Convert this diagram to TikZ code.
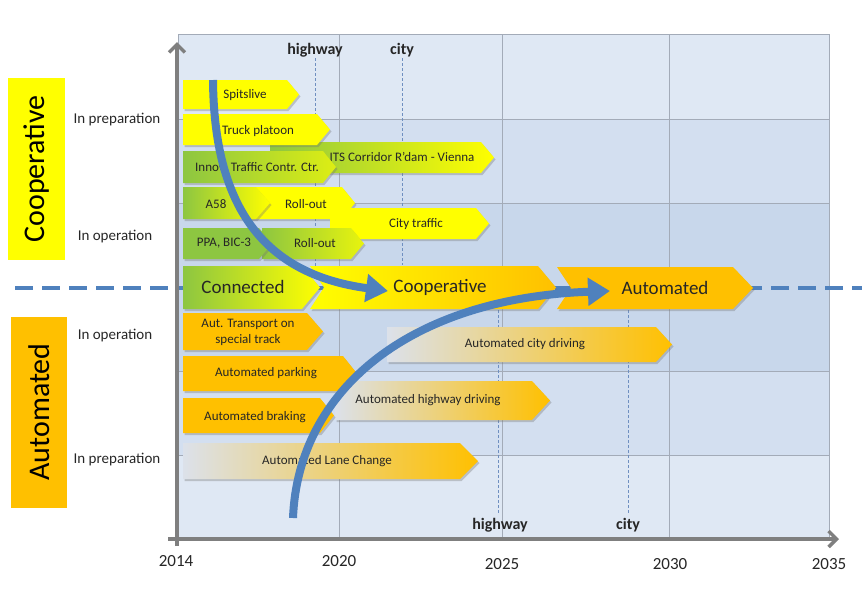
\documentclass[tikz,border=0pt]{standalone}
\usepackage{fontspec}
\setmainfont{Carlito}
\usetikzlibrary{arrows.meta,shadows}
\definecolor{cyel}{HTML}{FFFF00}
\definecolor{corg}{HTML}{FFC000}
\definecolor{cgrn}{HTML}{8DC641}
\definecolor{cpale}{HTML}{DCE1EA}
\definecolor{cblue}{HTML}{4F81BD}
\definecolor{caxis}{HTML}{7F7F7F}
\definecolor{bgA}{HTML}{DFE8F4}
\definecolor{bgB}{HTML}{D3DFF0}
\definecolor{bgC}{HTML}{C8D7EB}
\definecolor{cgrid}{HTML}{A3ABB8}
\definecolor{ctext}{HTML}{262626}
\definecolor{croad}{HTML}{6F8FC0}
\newcommand\arrbox[7]{%
  \path[boxshadow,#1] (#2,#3) -- ({#4-#6},#3) -- (#4,{(#3+#5)/2}) -- ({#4-#6},#5) -- (#2,#5) -- ({#2+#7},{(#3+#5)/2}) -- cycle;}
\tikzset{
  boxshadow/.style={drop shadow={shadow xshift=1.5pt,shadow yshift=-2pt,opacity=.35,fill=black!55}},
  yel/.style={fill=cyel},
  org/.style={fill=corg},
  grn/.style={fill=cgrn},
  pale2o/.style={left color=cpale, middle color=corg, right color=corg},
  boxtext/.style={font=\fontsize{13}{16}\selectfont, text=ctext, align=center, inner sep=0pt},
  bigtext/.style={font=\fontsize{19}{22}\selectfont, text=ctext, inner sep=0pt},
  rowlab/.style={font=\fontsize{15}{18}\selectfont, text=ctext, inner sep=0pt},
  yearlab/.style={font=\fontsize{17}{20}\selectfont, text=ctext, inner sep=0pt},
  roadlab/.style={font=\bfseries\fontsize{16}{19}\selectfont, text=ctext, inner sep=0pt},
  sidelab/.style={font=\fontsize{30}{36}\selectfont, text=black, rotate=90, inner sep=0pt},
  roadline/.style={draw=croad, line width=0.8pt, dash pattern=on 3pt off 2pt},
  gridline/.style={draw=cgrid, line width=0.8pt},
  flow/.style={draw=cblue, line width=8pt, -{Triangle[length=22pt,width=27pt]}},
  axisline/.style={draw=caxis, line width=3.5pt, -{Straight Barb[length=8pt,width=16pt]}}
}
\begin{document}
\begin{tikzpicture}[x=1pt,y=-1pt]
\useasboundingbox (0,0) rectangle (865,614);
% panel rows
\fill[bgA] (178,34) rectangle (829,119);
\fill[bgB] (178,119) rectangle (829,203);
\fill[bgC] (178,203) rectangle (829,288);
\fill[bgC] (178,288) rectangle (829,371);
\fill[bgB] (178,371) rectangle (829,455);
\fill[bgA] (178,455) rectangle (829,539);
% grid
\foreach \yy in {119,203,371,455} \draw[gridline] (178,\yy) -- (829,\yy);
\foreach \xx in {339,502,669} \draw[gridline] (\xx,34) -- (\xx,539);
\draw[gridline] (178,34) rectangle (829,539);
% road milestone lines
\draw[roadline] (315,58) -- (315,270);
\draw[roadline] (402,58) -- (402,265);
\draw[roadline] (498,300) -- (498,514);
\draw[roadline] (628,300) -- (628,513);
\node[roadlab] (hwtop) at (315,50) {highway};
\node[roadlab] (citytop) at (402,50) {city};
\node[roadlab] (hwbot) at (500,525) {highway};
\node[roadlab] (citybot) at (628,525) {city};
% divider
\coordinate (divL) at (15,288);
\coordinate (divR) at (862,288);
\draw[cblue, line width=3.5pt, dash pattern=on 18pt off 9pt] (divL) -- (divR);
% side labels
\fill[cyel] (8,78) rectangle (65,260);
\node[sidelab] (coopside) at (37,169) {Cooperative};
\fill[corg] (11,317) rectangle (67,508);
\node[sidelab] (autoside) at (39,412) {Automated};
\node[rowlab] (rl1) at (117,120) {In preparation};
\node[rowlab] (rl2) at (115,237) {In operation};
\node[rowlab] (rl3) at (115,336) {In operation};
\node[rowlab] (rl4) at (117,460) {In preparation};
% cooperative boxes
\arrbox{left color=cgrn, middle color=cyel!60!cgrn, right color=cyel}{270}{142}{494}{173}{13}{0}
\node[boxtext] (its) at (402,157) {ITS Corridor R’dam - Vienna};
\arrbox{yel}{183}{80}{299}{109}{12}{0}
\node[boxtext] (spits) at (245,95) {Spitslive};
\arrbox{yel}{183}{114}{330}{145}{13}{0}
\node[boxtext] (truck) at (258,131) {Truck platoon};
\arrbox{left color=cgrn, middle color=cgrn, right color=cyel!70!cgrn}{183}{151}{336}{183}{13}{0}
\node[boxtext] (inno) at (257,167) {Innov. Traffic Contr. Ctr.};
\arrbox{yel}{250}{187}{355}{219}{13}{0}
\node[boxtext] (roll1) at (306,204) {Roll-out};
\arrbox{left color=cgrn, middle color=cgrn!50!cyel, right color=cyel}{183}{187}{270}{219}{14}{0}
\node[boxtext] (a58) at (216,204) {A58};
\arrbox{yel}{330}{208}{489}{239}{13}{0}
\node[boxtext] (city) at (416,224) {City traffic};
\arrbox{left color=cgrn, middle color=cgrn!70!cyel, right color=cyel!80!cgrn}{262}{228}{364}{259}{13}{0}
\node[boxtext] (roll2) at (315,243) {Roll-out};
\arrbox{grn}{183}{228}{272}{259}{13}{0}
\node[boxtext] (ppa) at (224,243) {PPA, BIC-3};
% main phases
\arrbox{left color=cyel, middle color=cyel, right color=corg}{310}{266}{556}{309}{18}{14}
\node[bigtext] (coop) at (440,287) {Cooperative};
\arrbox{left color=cgrn, middle color=cgrn, right color=cyel}{183}{266}{320}{309}{18}{0}
\node[bigtext] (conn) at (243,287) {Connected};
\arrbox{org}{557}{267}{753}{309}{20}{14}
\node[bigtext] (auto) at (665,288) {Automated};
% automated boxes
\arrbox{pale2o}{387}{327}{672}{362}{16}{0}
\node[boxtext] (citydrv) at (525,344) {Automated city driving};
\arrbox{org}{183}{313}{323}{350}{16}{0}
\node[boxtext] (track) at (248,332) {Aut. Transport on\\special track};
\arrbox{pale2o}{335}{381}{550}{420}{18}{0}
\node[boxtext] (hwdrv) at (428,400) {Automated highway driving};
\arrbox{org}{183}{356}{357}{391}{14}{0}
\node[boxtext] (park) at (266,373) {Automated parking};
\arrbox{org}{183}{398}{334}{433}{14}{0}
\node[boxtext] (brake) at (255,417) {Automated braking};
\arrbox{pale2o}{183}{443}{478}{479}{18}{0}
\node[boxtext] (lane) at (327,461) {Automated Lane Change};
% flows
\coordinate (fA0) at (213,80);
\coordinate (fA1) at (388,291);
\coordinate (fB0) at (293,518);
\coordinate (fB1) at (610,291);
\draw[flow] (fA0) .. controls (214,205) and (262,274) .. (fA1);
\draw[flow] (fB0) .. controls (298,390) and (410,298) .. (fB1);
% axes
\coordinate (ax0) at (177,546);
\coordinate (axT) at (177,42);
\coordinate (ay0) at (168,539);
\coordinate (ayR) at (839,539);
\draw[axisline] (ax0) -- (axT);
\draw[axisline] (ay0) -- (ayR);
\node[yearlab] (y14) at (176,561) {2014};
\node[yearlab] (y20) at (339,561) {2020};
\node[yearlab] (y25) at (502,564) {2025};
\node[yearlab] (y30) at (670,564) {2030};
\node[yearlab] (y35) at (829,564) {2035};
\end{tikzpicture}
\end{document}
